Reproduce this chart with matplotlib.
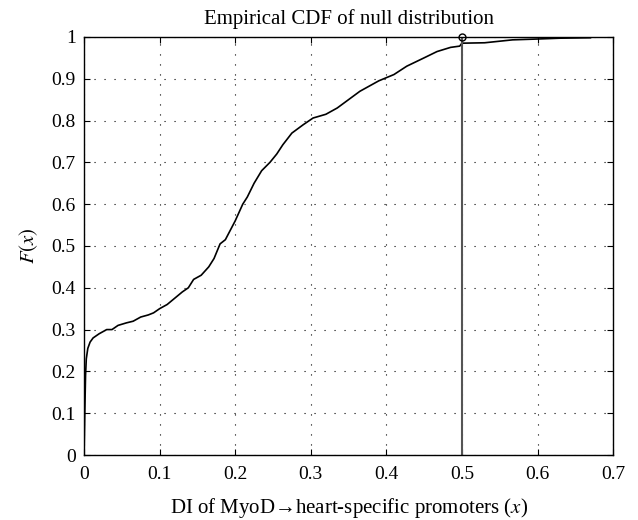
import matplotlib
matplotlib.use('Agg')
import matplotlib.pyplot as plt
import numpy as np

plt.rcParams['font.family'] = ['Liberation Serif', 'DejaVu Serif']
plt.rcParams['mathtext.fontset'] = 'stix'

# empirical CDF
di = [0.0, 0.001, 0.002, 0.003, 0.005, 0.008, 0.012, 0.02, 0.03, 0.037, 0.045,
      0.056, 0.065, 0.075, 0.085, 0.092, 0.1, 0.11, 0.12, 0.13, 0.138, 0.145,
      0.155, 0.165, 0.172, 0.18, 0.187, 0.2, 0.21, 0.216, 0.225, 0.235, 0.246,
      0.255, 0.263, 0.275, 0.29, 0.303, 0.32, 0.335, 0.35, 0.365, 0.39, 0.41,
      0.427, 0.45, 0.467, 0.485, 0.497, 0.5, 0.53, 0.567, 0.6, 0.63, 0.67]
cdf = [0.0, 0.1, 0.19, 0.23, 0.255, 0.27, 0.28, 0.29, 0.30, 0.30, 0.31,
       0.316, 0.32, 0.33, 0.335, 0.34, 0.35, 0.36, 0.375, 0.39, 0.40, 0.42,
       0.43, 0.45, 0.47, 0.505, 0.515, 0.56, 0.60, 0.617, 0.65, 0.68, 0.70,
       0.72, 0.742, 0.77, 0.79, 0.806, 0.815, 0.83, 0.85, 0.87, 0.895, 0.91,
       0.93, 0.95, 0.965, 0.975, 0.978, 0.985, 0.986, 0.993, 0.995, 0.997, 0.998]
x_obs = 0.5

fig = plt.figure(figsize=(6.38, 5.2), dpi=100)
ax = fig.add_axes([0.1317, 0.125, 0.8293, 0.804])
ax.plot(di, cdf, color='black', lw=1.2)
ax.plot([x_obs, x_obs], [0, 1], color='#555555', lw=1.5)
ax.plot([x_obs], [1], marker='o', mfc='none', mec='black', ms=5, clip_on=False)

ax.set_xlim(0, 0.7)
ax.set_ylim(0, 1)
ax.set_xticks(np.arange(0, 0.71, 0.1))
ax.set_yticks(np.arange(0, 1.01, 0.1))
ax.set_xticklabels(['0', '0.1', '0.2', '0.3', '0.4', '0.5', '0.6', '0.7'])
ax.set_yticklabels(['0', '0.1', '0.2', '0.3', '0.4', '0.5', '0.6', '0.7', '0.8', '0.9', '1'])
ax.tick_params(direction='in', top=True, right=True, labelsize=14, length=4)
ax.tick_params(axis='x', pad=8)
ax.tick_params(axis='y', pad=6)
ax.grid(True, color='black', linestyle=(0, (1, 8)), lw=0.8)
for s in ax.spines.values():
    s.set_linewidth(1.0)

ax.set_title('Empirical CDF of null distribution', fontsize=15, pad=9)
ax.set_xlabel('DI of MyoD→heart-specific promoters ($x$)', fontsize=15, labelpad=9)
ax.set_ylabel('$F(x)$', fontsize=15, labelpad=8)

plt.savefig('out.png', dpi=100)
